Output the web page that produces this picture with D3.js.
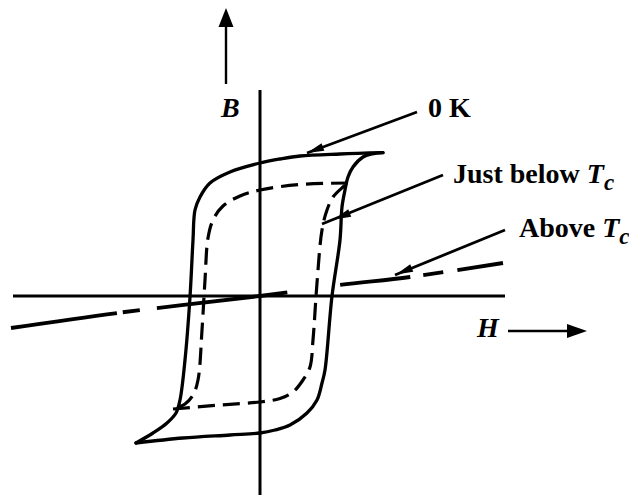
<!DOCTYPE html>
<html>
<head>
<meta charset="utf-8">
<script src="https://cdn.jsdelivr.net/npm/d3@7"></script>
<style>
  html, body { margin: 0; padding: 0; background: #fff; }
  svg { display: block; }
  text { font-family: "Liberation Serif", "Times New Roman", serif; font-weight: bold; fill: #000; }
</style>
</head>
<body>
<script>
// ---------- data (H, B in arbitrary units) ----------
// 0 K loop, upper (descending) branch
const loop0K_upper_H = [12.3, 8.0, 4.0, 2.0, 0, -3.0, -5.0, -6.0, -6.5, -6.7, -7.0, -7.5, -8.0, -8.4, -9.3, -10.7, -12.4];
const loop0K_upper_B = [14.33, 14.2, 14.0, 13.7, 13.3, 12.4, 11.3, 9.9, 8.6, 5.6, -0.1, -6.4, -10.4, -11.7, -12.7, -13.7, -14.7];
// 0 K loop, lower (ascending) branch
const loop0K_lower_H = [-12.4, -7.7, -3.0, 0, 1.5, 3.0, 4.7, 5.7, 6.2, 6.5, 7.2, 8.0, 8.2, 8.5, 8.8, 9.3, 10.3, 11.2, 12.3];
const loop0K_lower_B = [-14.7, -14.2, -13.9, -13.7, -13.4, -12.9, -11.7, -10.4, -8.7, -7.4, 0, 5.6, 8.9, 10.6, 11.9, 12.9, 13.9, 14.2, 14.33];
// Just below Tc loop
const loopTc_upper_H = [8.8, 4.0, 0, -2.0, -3.7, -4.7, -5.2, -5.5, -5.8, -6.2, -6.7, -7.5, -8.7];
const loopTc_upper_B = [11.3, 11.15, 10.6, 10.0, 9.0, 7.6, 5.8, 1.6, -3.4, -8.4, -9.9, -10.8, -11.3];
const loopTc_lower_H = [-8.7, -4.0, 0, 2.0, 3.3, 4.3, 5.0, 5.3, 5.7, 6.2, 6.7, 7.3, 8.3, 8.8];
const loopTc_lower_B = [-11.3, -10.9, -10.6, -10.25, -9.6, -8.4, -7.1, -4.4, 1.3, 6.6, 8.6, 9.9, 10.9, 11.3];
// Above Tc (paramagnetic) line
const aboveTc_H = [-24.9, -14.3, 0, 8.0, 15.0, 24.3];
const aboveTc_B = [-3.2, -1.7, 0, 1.1, 1.9, 3.3];

// axes extents
const hAxisExtent = [-24.7, 24.5];
const bAxisExtent = [20.6, -19.9];
// axis-direction arrows
const bArrowH = -3.4, bArrowFrom = 21.2, bArrowTo = 28.8;
const hArrowB = -3.5, hArrowFrom = 24.8, hArrowTo = 32.7;

// labels
const curveLabels = ["0 K", "Just below ", "Above "];
const curveLabelSub = [null, "T", "T"];
const labelH = [16.8, 19.3, 25.9];
const labelB = [17.9, 11.3, 5.9];
// pointer arrows: start (H,B), end (H,B)
const pointerStartH = [15.7, 18.3, 24.5];
const pointerStartB = [18.4, 12.1, 6.6];
const pointerEndH = [4.7, 6.2, 13.5];
const pointerEndB = [14.3, 7.2, 2.1];
const pointerTipH = [4.7, 7.4, 13.6];
const pointerTipB = [14.3, 7.65, 2.15];
const axisLabels = ["B", "H"];
const axisLabelH = [-3.9, 21.7];
const axisLabelB = [17.9, -4.1];

// ---------- drawing ----------
const W = 629, Hpx = 495;
const x = d3.scaleLinear().domain([-26, 36.9]).range([0, W]);
const y = d3.scaleLinear().domain([29.6, -19.9]).range([0, Hpx]);

const svg = d3.select("body").append("svg").attr("width", W).attr("height", Hpx);
svg.append("rect").attr("width", W).attr("height", Hpx).attr("fill", "#fff");

const zip = (hs, bs) => hs.map((h, i) => [h, bs[i]]);
const line = d3.line().x(d => x(d[0])).y(d => y(d[1])).curve(d3.curveCatmullRom.alpha(0.5));
const straight = d3.line().x(d => x(d[0])).y(d => y(d[1]));

// axes
svg.append("line").attr("x1", x(hAxisExtent[0])).attr("x2", x(hAxisExtent[1]))
  .attr("y1", y(0)).attr("y2", y(0)).attr("stroke", "#000").attr("stroke-width", 3);
svg.append("line").attr("x1", x(0)).attr("x2", x(0))
  .attr("y1", y(bAxisExtent[0])).attr("y2", y(bAxisExtent[1])).attr("stroke", "#000").attr("stroke-width", 3);

// 0 K loop (solid)
svg.append("path").attr("d", line(zip(loop0K_upper_H, loop0K_upper_B))).attr("fill", "none").attr("stroke", "#000")
  .attr("stroke-width", 3.3).attr("stroke-linejoin", "round").attr("stroke-linecap", "round");
svg.append("path").attr("d", line(zip(loop0K_lower_H, loop0K_lower_B))).attr("fill", "none").attr("stroke", "#000")
  .attr("stroke-width", 3.3).attr("stroke-linejoin", "round").attr("stroke-linecap", "round");

// just below Tc loop (dashed)
svg.append("path").attr("d", line(zip(loopTc_upper_H, loopTc_upper_B))).attr("fill", "none").attr("stroke", "#000")
  .attr("stroke-width", 3.2).attr("stroke-dasharray", "17,8");
svg.append("path").attr("d", line(zip(loopTc_lower_H, loopTc_lower_B))).attr("fill", "none").attr("stroke", "#000")
  .attr("stroke-width", 3.2).attr("stroke-dasharray", "17,8");

// above Tc (long dashes)
const dashes = [106, 6, 17, 17, 130, 53, 70, 13, 20, 14, 60].map(v => v * 1.009).join(",");
svg.append("path").attr("d", line(zip(aboveTc_H, aboveTc_B))).attr("fill", "none").attr("stroke", "#000")
  .attr("stroke-width", 3.8).attr("stroke-dasharray", dashes);

// arrowhead helper (pixel tip, direction from base to tip)
function arrowHead(tx, ty, fx, fy, len, wid) {
  const dx = tx - fx, dy = ty - fy, L = Math.hypot(dx, dy);
  const ux = dx / L, uy = dy / L, px = -uy, py = ux;
  const bx = tx - ux * len, by = ty - uy * len;
  svg.append("path")
    .attr("d", `M${tx},${ty}L${bx + px * wid / 2},${by + py * wid / 2}L${bx - px * wid / 2},${by - py * wid / 2}Z`)
    .attr("fill", "#000");
}

// axis arrows
svg.append("line").attr("x1", x(bArrowH)).attr("x2", x(bArrowH)).attr("y1", y(bArrowFrom)).attr("y2", y(bArrowTo) + 10)
  .attr("stroke", "#000").attr("stroke-width", 2.4);
arrowHead(x(bArrowH), y(bArrowTo), x(bArrowH), y(bArrowFrom), 19, 15);
svg.append("line").attr("x1", x(hArrowFrom)).attr("x2", x(hArrowTo) - 10).attr("y1", y(hArrowB)).attr("y2", y(hArrowB))
  .attr("stroke", "#000").attr("stroke-width", 2.4);
arrowHead(x(hArrowTo), y(hArrowB), x(hArrowFrom), y(hArrowB), 20, 14);

// pointer arrows
pointerStartH.forEach((h, i) => {
  svg.append("path").attr("d", straight([[h, pointerStartB[i]], [pointerEndH[i], pointerEndB[i]]]))
    .attr("stroke", "#000").attr("stroke-width", 2.8).attr("fill", "none");
  arrowHead(x(pointerTipH[i]), y(pointerTipB[i]), x(h), y(pointerStartB[i]), 17, 8);
});

// curve labels
curveLabels.forEach((t, i) => {
  const tx = svg.append("text").attr("x", x(labelH[i])).attr("y", y(labelB[i])).attr("font-size", 28);
  tx.append("tspan").text(t);
  if (curveLabelSub[i]) {
    tx.append("tspan").attr("font-style", "italic").text(curveLabelSub[i]);
    tx.append("tspan").attr("font-style", "italic").attr("font-size", 23).attr("dy", 7).text("c");
  }
});

// axis labels
axisLabels.forEach((t, i) => {
  svg.append("text").attr("x", x(axisLabelH[i])).attr("y", y(axisLabelB[i]))
    .attr("font-size", 28).attr("font-style", "italic").text(t);
});
</script>
</body>
</html>
